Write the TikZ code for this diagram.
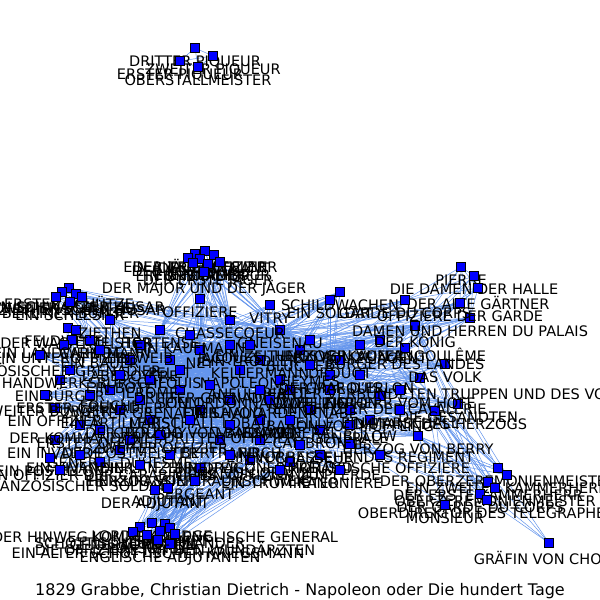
\documentclass[tikz,border=0pt]{standalone}
\usepackage{fontspec}
\setmainfont{DejaVu Sans}
\definecolor{linkblue}{RGB}{100,149,237}
\pgfdeclarelayer{back}
\pgfdeclarelayer{bg}
\pgfsetlayers{back,bg,main}
\tikzset{
  actor/.style={rectangle,draw=black,fill=blue,minimum size=8.5pt,inner sep=0pt,line width=.7pt,label={[lbl]below:#1}},
  lbl/.style={font=\fontsize{14.5}{15}\selectfont,text=black},
  link/.style={draw=linkblue,line width=.5pt}
}
\begin{document}
\begin{tikzpicture}[x=1pt,y=-1pt]
        \begin{pgfonlayer}{back}
        \fill[white] (0,0) rectangle (600,600);
        \end{pgfonlayer}
        \useasboundingbox (0,0) rectangle (600,600);
        % piqueurs
        \foreach \n/\x/\y/\lab in {p3/195/48/DRITTER PIQUEUR, p2/213/56/ZWEITER PIQUEUR,
            p1/180/61/ERSTER PIQUEUR, osm/198/67/OBERSTALLMEISTER}
            \node[actor=\lab] (\n) at (\x,\y) {};
        % jaeger
        \foreach \n/\x/\y/\lab in {j1/205/251/DER JÄGEROFFIZIER, j2/195/254/EIN ALTER OFFIZIER,
            j3/214/255/DER LEUTNANT, j4/188/258/DER KORPORAL, j5/200/259/EIN FÜSILIER,
            j6/220/262/EIN TAMBOUR, j7/193/263/EIN GRENADIER, j8/208/264/DER ERSTE JÄGER,
            j9/204/272/DER MAJOR UND DER JÄGER}
            \node[actor=\lab] (\n) at (\x,\y) {};
        % schuetzen
        \foreach \n/\x/\y/\lab in {s1/69/288/ERSTER SCHÜTZE, s2/62/292/ZWEITER SCHÜTZE,
            s3/76/294/EIN SCHWARZER HUSAR, s4/56/297/EIN BERLINER BÜRGER,
            s5/82/297/ZIETHENSCHER HUSAR, s6/70/302/EIN SCHLESIER,
            f1/68/328/FELDWEBEL, f2/76/330/DER WACHTMEISTER,
            f3/72/340/EIN LANDWEHRMANN, f4/64/345/EIN UNTEROFFIZIER}
            \node[actor=\lab] (\n) at (\x,\y) {};
        % halle
        \foreach \n/\x/\y/\lab in {pi/461/267/PIERRE, dh/474/276/DIE DAMEN DER HALLE,
            ag/478/288/DER ALTE GÄRTNER}
            \node[actor=\lab] (\n) at (\x,\y) {};
        % mitte
        \foreach \n/\x/\y/\lab in {n1/240/370/NAPOLEON, n2/300/350/BLÜCHER, n3/330/390/WELLINGTON,
            n4/280/330/GNEISENAU, n5/200/350/NEY, n6/180/390/SOULT, n7/150/420/GROUCHY,
            n8/260/420/VANDAMME, n9/320/430/CAMBRONNE, n10/220/440/BERTRAND,
            n11/130/360/LABÉDOYÈRE, n12/110/390/FOUCHÉ, n13/90/340/CARNOT,
            n14/160/330/HORTENSE, n15/380/340/HERZOGIN VON ANGOULÊME, n16/230/320/CHASSECOEUR,
            n17/270/305/VITRY, n18/290/390/JOUVE, n19/340/360/DROUOT, n20/370/420/BÜLOW,
            n21/250/460/PRINZ VON ORANIEN, n22/200/468/HERZOG VON BRAUNSCHWEIG,
            n23/120/450/GENERAL DUHESME, n24/55/408/EIN OFFIZIER, n25/55/440/EIN INVALIDE,
            n26/50/458/EIN POSTILLON, n27/60/380/EIN BÜRGER, n28/45/395/ZWEITER BÜRGER,
            n29/40/355/EIN FRANZÖSISCHER GRENADIER, n30/70/370/EIN HANDWERKSBURSCHE,
            n31/100/462/EIN OFFIZIER DER CARABINIERS, n32/80/425/DER KOMMANDANT,
            n33/130/440/DER POSTMEISTER, n34/170/455/EIN LANZENREITER, n35/150/380/JEROME,
            n36/200/410/MARSCHALL LOBAU, n37/260/360/KELLERMANN, n38/310/410/REILLE,
            n39/360/375/GRAF D'ERLON, n40/418/436/HERZOG VON BERRY,
            n41/350/444/EIN VORBEIZIEHENDES REGIMENT, n42/290/462/EIN OFFIZIER ZU PFERDE,
            n43/380/396/EIN OFFIZIER DER CAVALERIE, n44/435/411/ADJUTANT DES HERZOGS,
            n45/458/404/DIE GESANDTEN, n46/420/378/ANFÜHRER DER VERBÜNDETEN TRUPPEN UND DES VOLKS,
            n47/445/364/DAS VOLK, n48/405/348/BÜRGER DES LANDES, n49/415/326/DER KÖNIG,
            n50/470/318/DAMEN UND HERREN DU PALAIS, n51/460/303/OFFIZIERE DER GARDE,
            n52/340/292/SCHILDWACHEN, n53/405/300/GARDE DU CORPS, n54/330/300/EIN SOLDAT,
            n55/200/299/OFFIZIERE, n56/260/440/PIRCH, n57/110/320/ZIETHEN, n58/230/400/MILHAUD,
            n59/280/380/FRIANT, n60/320/455/MORAND, n61/170/360/PELET, n62/120/410/EIN ARTILLERIST,
            n63/350/410/BARON VON MÜFFLING, n64/100/350/EIN BAUER, n65/140/345/EIN WEIB,
            n66/190/335/EIN KAUFMANN, n67/250/345/EIN TRÖDLER, n68/310/340/EIN ZEITUNGSVERKÄUFER,
            n69/360/345/EIN POLIZEIAGENT, n70/90/395/ERSTER GRENADIER, n71/140/400/ZWEITER GRENADIER,
            n72/210/385/DRITTER GRENADIER, n73/270/400/EIN SAVOYARDENKNABE, n74/330/375/DER MARQUIS,
            n75/400/390/EIN HERR VOM HOFE, n76/100/430/ERSTER OFFIZIER, n77/160/435/ZWEITER OFFIZIER,
            n78/230/425/DRITTER OFFIZIER, n79/290/420/EIN GENERAL, n80/350/425/GENERALE,
            n81/80/455/EIN VIVANDIER, n82/140/465/EIN KÜRASSIER, n83/230/455/EIN DRAGONER,
            n84/300/445/EIN CHASSEUR, n85/380/455/PREUSSISCHE OFFIZIERE, n86/60/470/EIN FRANZÖSISCHER SOLDAT,
            n87/190/420/DER HERZOG VON BASSANO, n88/260/390/EIN ORDONNANZOFFIZIER, n89/310/365/HEYMÈS,
            n90/230/345/JACQUES, n91/180/370/LOUIS, n92/120/375/EIN BOTE, n93/400/410/EIN MARSCHALL,
            n94/280/470/EIN TROMPETER, n95/340/470/KANONIERE}
            \node[actor=\lab] (\n) at (\x,\y) {};
        % sergeant
        \foreach \n/\x/\y/\lab in {se/195/481/SERGEANT, ad/155/490/DER ADJUTANT, ae/168/488/ADJUTANT}
            \node[actor=\lab] (\n) at (\x,\y) {};
        % hof
        \foreach \n/\x/\y/\lab in {r1/498/468/DER OBERZEREMONIENMEISTER, r2/507/475/EIN ZWEITER KAMMERHERR,
            r3/488/482/DER ERSTE KAMMERHERR, r4/495/488/OBERZEREMONIENMEISTER,
            r5/480/494/DER GARDE DU CORPS, r6/487/500/OBERDIREKTOR DES TELEGRAPHEN,
            r7/445/505/MONSIEUR, gr/549/543/GRÄFIN VON CHOISY}
            \node[actor=\lab] (\n) at (\x,\y) {};
        % englaender
        \foreach \n/\x/\y/\lab in {b1/165/524/DER HINWEG KOMMENDE ENGLISCHE GENERAL,
            b2/140/527/SCHOTTISCHE HOCHLÄNDER, b3/152/523/LORD UXBRIDGE, b4/133/532/GENERAL PICTON,
            b5/160/531/LORD HILL, b6/170/528/SIR KEMPT, b7/147/535/PONSONBY,
            b8/158/540/EIN ALTER SCHOTTISCHER KRIEGSMANN, b9/170/544/ENGLISCHE ADJUTANTEN,
            b10/175/534/DIE OFFIZIERE MIT DEN WUNDÄRZTEN}
            \node[actor=\lab] (\n) at (\x,\y) {};
        \node[font=\fontsize{16}{17}\selectfont] (title) at (300,591)
            {1829 Grabbe, Christian Dietrich - Napoleon oder Die hundert Tage};

        \begin{pgfonlayer}{bg}
        \foreach \a/\b in {p1/p2,p1/p3,p1/osm,p2/p3,p2/osm,p3/osm,pi/dh,pi/ag,dh/ag,gr/r1,gr/r6,gr/n40,gr/n44}
            \draw[link] (\a) -- (\b);
        \foreach \i in {1,...,9}
            \foreach \b in {n1,n4,n5,n14,n16,n55}
                \draw[link] (j\i) -- (\b);
        \foreach \i in {1,...,6}
            \foreach \b in {n2,n4,n11,n13,n57}
                \draw[link] (s\i) -- (\b);
        \foreach \i in {1,...,4}
            \foreach \b in {n2,n11,n13,n27,n30}
                \draw[link] (f\i) -- (\b);
        \foreach \a in {pi,dh,ag}
            \foreach \b in {n48,n49,n50,n51,n53}
                \draw[link] (\a) -- (\b);
        \foreach \i in {1,...,7}
            \foreach \b in {n15,n40,n41,n44,n49}
                \draw[link] (r\i) -- (\b);
        \foreach \i in {1,...,10}
            \foreach \b in {n3,n10,n21,n22,n42,se,ad}
                \draw[link] (b\i) -- (\b);
        \foreach \a in {se,ad,ae}
            \foreach \b in {n3,n7,n10,n22}
                \draw[link] (\a) -- (\b);
        \foreach \i in {1,...,12}
            \foreach \j in {1,...,95}
                \draw[link] (n\i) -- (n\j);
        \end{pgfonlayer}
\end{tikzpicture}
\end{document}
